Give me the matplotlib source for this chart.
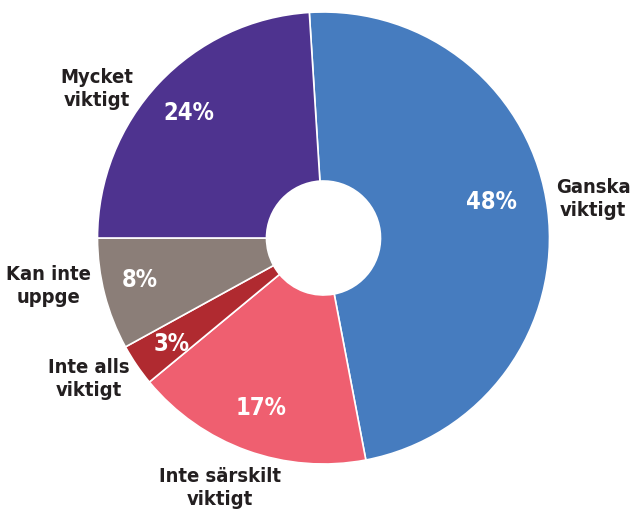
import matplotlib
matplotlib.use("Agg")
import matplotlib.pyplot as plt

# data, clockwise from the top
labels = ["Ganska\nviktigt", "Inte särskilt\nviktigt", "Inte alls\nviktigt", "Kan inte\nuppge", "Mycket\nviktigt"]
values = [48, 17, 3, 8, 24]
colors = ["#467CBF", "#EF5F70", "#B02A30", "#8B7E78", "#4E338F"]

# text positions in pixels (from top-left)
pct_pos = [(491, 202), (261, 408), (172, 344), (140, 280), (189, 113)]
lab_pos = [(593, 199), (220, 488), (89, 379), (48, 286), (97, 89)]

W, H = 630, 512

fig = plt.figure(figsize=(6.3, 5.12), dpi=100)
ax = fig.add_axes([0, 0, 1, 1])

cx, cy, r = 323.5, H - 238, 226
# the Kan inte / Mycket boundary sits at the left, horizontal
start = 180 - values[-1] / 100 * 360
ax.pie(values, colors=colors, startangle=start, counterclock=False,
       center=(cx, cy), radius=r,
       wedgeprops=dict(width=r - 57, edgecolor="white", linewidth=1.2))

for v, (x, y) in zip(values, pct_pos):
    ax.text(x, H - y, f"{v}%", ha="center", va="center", color="white",
            fontsize=17, fontweight="bold", family="DejaVu Sans",
            fontstretch="condensed")

for lab, (x, y) in zip(labels, lab_pos):
    ax.text(x, H - y, lab, ha="center", va="center", color="#231F20",
            fontsize=14.5, fontweight="bold", family="DejaVu Sans",
            fontstretch="condensed", linespacing=1.25)

ax.set_xlim(0, W)
ax.set_ylim(0, H)
ax.set_aspect("equal")
ax.axis("off")
fig.savefig("out.png", dpi=100)
